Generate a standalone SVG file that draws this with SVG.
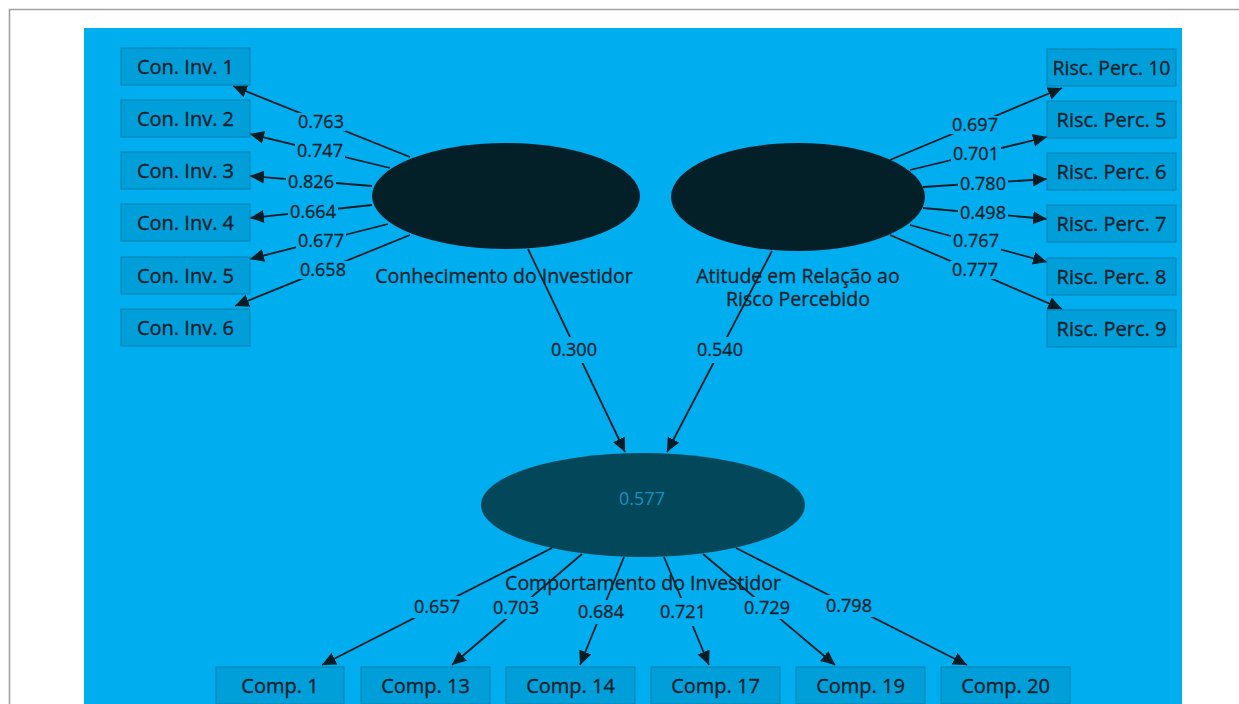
<svg xmlns="http://www.w3.org/2000/svg" width="1239" height="704" viewBox="0 0 1239 704">
<defs>
<marker id="arr" markerUnits="userSpaceOnUse" markerWidth="15" markerHeight="14" refX="14" refY="7" orient="auto">
<path d="M0,0.5 L14,7 L0,13.5 z" fill="#061D25"/>
</marker>
<style>
.box{fill:#009FDA;stroke:#0086B8;stroke-width:1.2}
.bt{font-family:"Open Sans","Liberation Sans",sans-serif;font-size:20px;fill:#072029;stroke:#072029;stroke-width:0.35;text-anchor:middle}
.lt{font-family:"Open Sans","Liberation Sans",sans-serif;font-size:19.5px;fill:#072029;stroke:#072029;stroke-width:0.3;text-anchor:middle}
.ln{stroke:#061D25;stroke-width:1.8;fill:none;marker-end:url(#arr)}
.nt{font-family:"Open Sans","Liberation Sans",sans-serif;font-size:18px;fill:#072029;stroke:#072029;stroke-width:0.3;text-anchor:middle}
.gap{fill:#00AEEF}
</style>
</defs>
<rect x="0" y="0" width="1239" height="704" fill="#FFFFFF"/>
<path d="M9.5,704 V9.5 H1239" fill="none" stroke="#A0A0A0" stroke-width="1.6"/>
<rect x="84" y="28" width="1098" height="676" fill="#00AEEF"/>

<g id="connectors">
<path class="ln" d="M410,157 L233,86"/><rect class="gap" x="296" y="113" width="50" height="18"/><text class="nt" x="321" y="128">0.763</text>
<path class="ln" d="M390,168 L250,134"/><rect class="gap" x="295" y="142" width="50" height="18"/><text class="nt" x="320" y="157">0.747</text>
<path class="ln" d="M372,186 L250,176"/><rect class="gap" x="286" y="173" width="50" height="18"/><text class="nt" x="311" y="188">0.826</text>
<path class="ln" d="M372,205 L250,218"/><rect class="gap" x="288" y="203" width="50" height="18"/><text class="nt" x="313" y="218">0.664</text>
<path class="ln" d="M388,224 L250,259"/><rect class="gap" x="296" y="232" width="50" height="18"/><text class="nt" x="321" y="247">0.677</text>
<path class="ln" d="M410,235 L235,306"/><rect class="gap" x="298" y="261" width="50" height="18"/><text class="nt" x="323" y="276">0.658</text>

<path class="ln" d="M890,160 L1062,88"/><rect class="gap" x="950" y="116" width="50" height="18"/><text class="nt" x="975" y="131">0.697</text>
<path class="ln" d="M910,170 L1047,137"/><rect class="gap" x="951" y="145" width="50" height="18"/><text class="nt" x="976" y="160">0.701</text>
<path class="ln" d="M923,187 L1047,179"/><rect class="gap" x="958" y="175" width="50" height="18"/><text class="nt" x="983" y="190">0.780</text>
<path class="ln" d="M923,208 L1047,219"/><rect class="gap" x="958" y="204" width="50" height="18"/><text class="nt" x="983" y="219">0.498</text>
<path class="ln" d="M910,225 L1047,262"/><rect class="gap" x="951" y="232" width="50" height="18"/><text class="nt" x="976" y="247">0.767</text>
<path class="ln" d="M890,235 L1062,309"/><rect class="gap" x="950" y="261" width="50" height="18"/><text class="nt" x="975" y="276">0.777</text>

<path class="ln" d="M528,249 L625,452"/><rect class="gap" x="549" y="337" width="50" height="26"/><text class="nt" x="574" y="356">0.300</text>
<path class="ln" d="M772,251 L667,452"/><rect class="gap" x="695" y="337" width="50" height="26"/><text class="nt" x="720" y="356">0.540</text>

<path class="ln" d="M552,548 L322,665"/><rect class="gap" x="412" y="596" width="50" height="22"/><text class="nt" x="437" y="613">0.657</text>
<path class="ln" d="M582,554 L452,665"/><rect class="gap" x="491" y="597" width="50" height="22"/><text class="nt" x="516" y="614">0.703</text>
<path class="ln" d="M624,557 L580,665"/><rect class="gap" x="576" y="600" width="50" height="24"/><text class="nt" x="601" y="618">0.684</text>
<path class="ln" d="M664,557 L709,665"/><rect class="gap" x="658" y="598" width="50" height="28"/><text class="nt" x="683" y="618">0.721</text>
<path class="ln" d="M703,554 L835,665"/><rect class="gap" x="742" y="597" width="50" height="22"/><text class="nt" x="767" y="614">0.729</text>
<path class="ln" d="M736,548 L967,665"/><rect class="gap" x="824" y="595" width="50" height="22"/><text class="nt" x="849" y="612">0.798</text>
</g>

<g id="lv-conhecimento">
<ellipse cx="506" cy="196" rx="134" ry="53" fill="#031F28"/>
<text class="lt" x="504" y="283">Conhecimento do Investidor</text>
</g>
<g id="lv-atitude">
<ellipse cx="798" cy="197" rx="127" ry="54" fill="#031F28"/>
<text class="lt" x="798" y="283">Atitude em Relação ao</text>
<text class="lt" x="798" y="306">Risco Percebido</text>
</g>
<g id="lv-comportamento">
<ellipse cx="643" cy="505" rx="162" ry="52" fill="#03475A"/>
<text class="nt" x="642" y="505" style="fill:#0E93C0;stroke:none">0.577</text>
<text class="lt" x="643" y="590">Comportamento do Investidor</text>
</g>

<g id="ci1"><rect class="box" x="121" y="48" width="129" height="37"/><text class="bt" x="185.5" y="74">Con. Inv. 1</text></g>
<g id="ci2"><rect class="box" x="121" y="100" width="129" height="37"/><text class="bt" x="185.5" y="126">Con. Inv. 2</text></g>
<g id="ci3"><rect class="box" x="121" y="152" width="129" height="37"/><text class="bt" x="185.5" y="178">Con. Inv. 3</text></g>
<g id="ci4"><rect class="box" x="121" y="204" width="129" height="37"/><text class="bt" x="185.5" y="230">Con. Inv. 4</text></g>
<g id="ci5"><rect class="box" x="121" y="257" width="129" height="37"/><text class="bt" x="185.5" y="283">Con. Inv. 5</text></g>
<g id="ci6"><rect class="box" x="121" y="309" width="129" height="37"/><text class="bt" x="185.5" y="335">Con. Inv. 6</text></g>

<g id="rp10"><rect class="box" x="1047" y="49" width="129" height="37"/><text class="bt" x="1111.5" y="75" textLength="118" lengthAdjust="spacingAndGlyphs">Risc. Perc. 10</text></g>
<g id="rp5"><rect class="box" x="1047" y="101" width="129" height="37"/><text class="bt" x="1111.5" y="127">Risc. Perc. 5</text></g>
<g id="rp6"><rect class="box" x="1047" y="153" width="129" height="37"/><text class="bt" x="1111.5" y="179">Risc. Perc. 6</text></g>
<g id="rp7"><rect class="box" x="1047" y="205" width="129" height="37"/><text class="bt" x="1111.5" y="231">Risc. Perc. 7</text></g>
<g id="rp8"><rect class="box" x="1047" y="258" width="129" height="37"/><text class="bt" x="1111.5" y="284">Risc. Perc. 8</text></g>
<g id="rp9"><rect class="box" x="1047" y="310" width="129" height="37"/><text class="bt" x="1111.5" y="336">Risc. Perc. 9</text></g>

<g id="c1"><rect class="box" x="216" y="667" width="128" height="37"/><text class="bt" x="280" y="693">Comp. 1</text></g>
<g id="c13"><rect class="box" x="361" y="667" width="129" height="37"/><text class="bt" x="425.5" y="693">Comp. 13</text></g>
<g id="c14"><rect class="box" x="506" y="667" width="129" height="37"/><text class="bt" x="570.5" y="693">Comp. 14</text></g>
<g id="c17"><rect class="box" x="651" y="667" width="129" height="37"/><text class="bt" x="715.5" y="693">Comp. 17</text></g>
<g id="c19"><rect class="box" x="796" y="667" width="129" height="37"/><text class="bt" x="860.5" y="693">Comp. 19</text></g>
<g id="c20"><rect class="box" x="941" y="667" width="129" height="37"/><text class="bt" x="1005.5" y="693">Comp. 20</text></g>
</svg>
